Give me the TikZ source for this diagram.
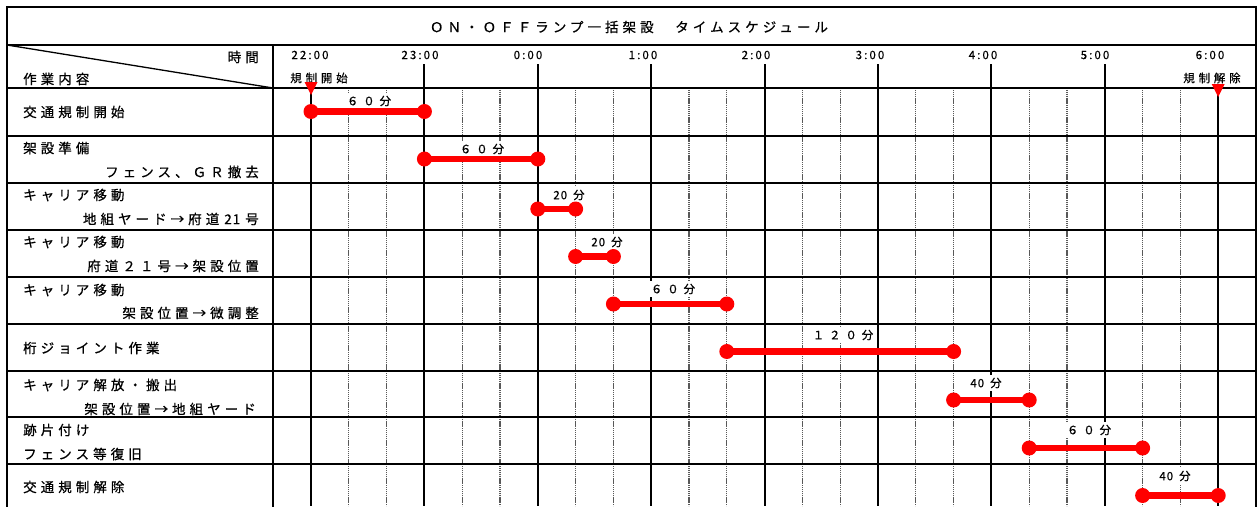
\documentclass[tikz,border=0pt]{standalone}
\usepackage{fontspec}
\setmainfont{Noto Sans CJK JP}
\newfontfamily\jpL[LetterSpace=30,FakeBold=0.6]{Noto Sans CJK JP}
\newfontfamily\jpM[LetterSpace=33,FakeBold=0.5]{Noto Sans CJK JP}
\newfontfamily\jpT[LetterSpace=18,FakeBold=0.5]{Noto Sans CJK JP}
\newfontfamily\jpN[LetterSpace=42,FakeBold=0.5]{Noto Sans CJK JP}
\newfontfamily\jpS[LetterSpace=12,FakeBold=0.5]{Noto Sans CJK JP}
\newcommand\tmx[1]{311+1.89*(#1)}
\begin{document}
\begin{tikzpicture}[x=1pt,y=-1pt,
  gridln/.style={line width=2.1pt,black},
  subln/.style={line width=1.3pt,black!65,dash pattern=on 1.2pt off 0.7pt},
  rowl/.style={inner sep=0pt,anchor=west,font={\jpL\fontsize{13.5}{15}\selectfont}},
  rowr/.style={inner sep=0pt,anchor=east,font={\jpL\fontsize{13.5}{15}\selectfont}},
  tlbl/.style={inner sep=0pt,font={\jpT\fontsize{11.5}{13}\selectfont}},
  hlbl/.style={inner sep=0pt,font={\jpM\fontsize{11.5}{13}\selectfont}},
  dur/.style={fill=white,inner xsep=3pt,inner ysep=3pt,font={\jpN\fontsize{11.5}{13}\selectfont}},
  durs/.style={dur,font={\jpS\fontsize{11.5}{13}\selectfont}},
  dot/.style={circle,fill=red,inner sep=0pt,minimum size=15pt},
  barln/.style={red,line width=6.5pt},
  tri/.style={fill=red}]
\useasboundingbox (0,0) rectangle (1260,506);
\clip (0,0) rectangle (1260,506);
% sub grid (20 min)
\foreach \h in {0,...,7}{\foreach \k in {20,40}{
  \draw[subln] ({\tmx{60*\h+\k}},88) -- ({\tmx{60*\h+\k}},506);}}
% hour lines
\foreach \h in {1,...,7}{\draw[gridln] ({\tmx{60*\h}},64) -- ({\tmx{60*\h}},506);}
\draw[gridln] ({\tmx{0}},88) -- ({\tmx{0}},506);
\draw[gridln] ({\tmx{480}},88) -- ({\tmx{480}},506);
% frame and rows
\draw[gridln] (7,520) -- (7,7) -- (1256,7) -- (1256,520);
\draw[gridln] (273,45) -- (273,520);
\foreach \y in {45,88,136,183,230,277,324,371,417,464}{\draw[gridln] (7,\y) -- (1256,\y);}
\coordinate (dgA) at (7,45);
\coordinate (dgB) at (273,88);
\draw[line width=1.3pt] (dgA) -- (dgB);
% title and header
\node[inner sep=0pt,font={\jpL\fontsize{13.5}{15}\selectfont}] (title) at (629,27) {ＯＮ・ＯＦＦランプ一括架設　タイムスケジュール};
\node[rowr] (hTime) at (259,57) {時間};
\node[rowl] (hWork) at (23,79) {作業内容};
\node[tlbl] (t22) at (310,55) {22:00};
\node[tlbl] (t23) at (420,55) {23:00};
\node[tlbl] (t0) at (528,55) {0:00};
\node[tlbl] (t1) at (643,55) {1:00};
\node[tlbl] (t2) at (756,55) {2:00};
\node[tlbl] (t3) at (870,55) {3:00};
\node[tlbl] (t4) at (983,55) {4:00};
\node[tlbl] (t5) at (1095,55) {5:00};
\node[tlbl] (t6) at (1210,55) {6:00};
\node[hlbl] (kStart) at (319,78) {規制開始};
\node[hlbl] (kEnd) at (1212,78) {規制解除};
% row labels
\node[rowl] (r1) at (23,112) {交通規制開始};
\node[rowl] (r2a) at (23,148) {架設準備};
\node[rowr] (r2b) at (259,172) {フェンス、ＧＲ撤去};
\node[rowl] (r3a) at (23,195) {キャリア移動};
\node[rowr] (r3b) at (259,219) {地組ヤード→府道\hspace{5pt}2\hspace{1pt}1\hspace{5pt}号};
\node[rowl] (r4a) at (23,242) {キャリア移動};
\node[rowr] (r4b) at (259,266) {府道２１号→架設位置};
\node[rowl] (r5a) at (23,290) {キャリア移動};
\node[rowr] (r5b) at (259,313) {架設位置→微調整};
\node[rowl] (r6) at (23,348) {桁ジョイント作業};
\node[rowl] (r7a) at (23,385) {キャリア解放・搬出};
\node[rowr] (r7b) at (256,409) {架設位置→地組ヤード};
\node[rowl] (r8a) at (23,430) {跡片付け};
\node[rowl] (r8b) at (23,454) {フェンス等復旧};
\node[rowl] (r9) at (23,487) {交通規制解除};
% duration labels
\node[dur] (d1) at (369,101) {６０分};
\node[dur] (d2) at (482,149) {６０分};
\node[durs] (d3) at (569,195) {2\hspace{1pt}0\hspace{6pt}分};
\node[durs] (d4) at (607,242) {2\hspace{1pt}0\hspace{6pt}分};
\node[dur] (d5) at (673,289) {６０分};
\node[dur] (d6) at (843,335) {１２０分};
\node[durs] (d7) at (986,383) {4\hspace{1pt}0\hspace{6pt}分};
\node[dur] (d8) at (1089,430) {６０分};
\node[durs] (d9) at (1175,476) {4\hspace{1pt}0\hspace{6pt}分};
% bars
\foreach \n/\a/\b/\y in {1/0/60/111.5, 2/60/120/159, 3/120/140/209, 4/140/160/256.5,
  5/160/220/304, 6/220/340/351.5, 7/340/380/400, 8/380/440/448, 9/440/480/495.5}{
  \node[dot] (s\n) at ({\tmx{\a}},\y) {};
  \node[dot] (e\n) at ({\tmx{\b}},\y) {};
  \draw[barln] (s\n.center) -- (e\n.center);
}
% markers
\fill[tri] ({\tmx{0}-6.5},82) -- ({\tmx{0}+6.5},82) -- ({\tmx{0}},95) -- cycle;
\fill[tri] ({\tmx{480}-6.5},84) -- ({\tmx{480}+6.5},84) -- ({\tmx{480}},97) -- cycle;
\end{tikzpicture}
\end{document}
